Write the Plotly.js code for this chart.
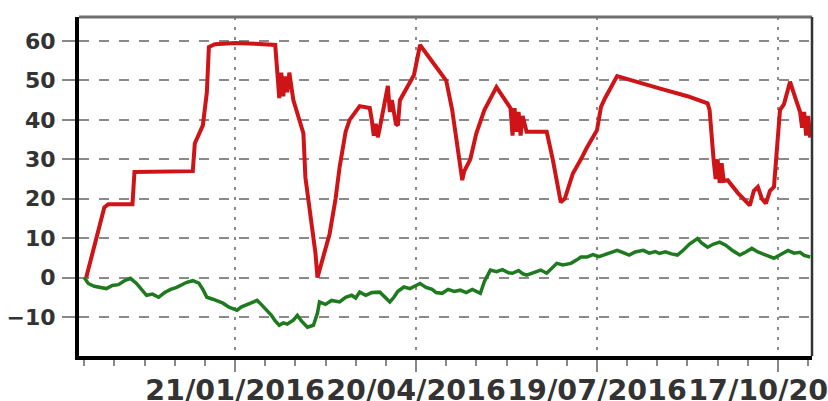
<!DOCTYPE html>
<html>
<head>
<meta charset="utf-8">
<script src="https://cdn.plot.ly/plotly-3.0.1.min.js"></script>
<style>
html,body{margin:0;padding:0;background:#fff;}
#chart{width:828px;height:401px;}
</style>
</head>
<body>
<div id="chart"></div>
<script>
// Red series (dates and values)
var redDates = [
'2015-11-08','2015-11-12','2015-11-17','2015-11-19','2015-12-01','2015-12-02','2015-12-31',
'2016-01-01','2016-01-05','2016-01-07','2016-01-08','2016-01-11','2016-01-21','2016-01-31',
'2016-02-10','2016-02-12','2016-02-13','2016-02-14','2016-02-15','2016-02-16','2016-02-17',
'2016-02-19','2016-02-24','2016-02-25','2016-03-01','2016-03-02','2016-03-08','2016-03-11',
'2016-03-13','2016-03-16','2016-03-18','2016-03-23','2016-03-28','2016-03-29','2016-03-30',
'2016-03-31','2016-04-01','2016-04-02','2016-04-06','2016-04-07','2016-04-08','2016-04-10',
'2016-04-11','2016-04-12','2016-04-19','2016-04-22','2016-05-05','2016-05-08','2016-05-13',
'2016-05-14','2016-05-17','2016-05-20','2016-05-24','2016-05-30','2016-06-06','2016-06-07',
'2016-06-08','2016-06-09','2016-06-10','2016-06-11','2016-06-12','2016-06-14','2016-06-24',
'2016-06-27','2016-07-01','2016-07-03','2016-07-07','2016-07-11','2016-07-14','2016-07-19',
'2016-07-21','2016-07-23','2016-07-29','2016-08-19','2016-09-02','2016-09-12','2016-09-13',
'2016-09-15','2016-09-16','2016-09-17','2016-09-18','2016-09-19','2016-09-20','2016-09-22',
'2016-09-27','2016-10-03','2016-10-05','2016-10-07','2016-10-09','2016-10-11','2016-10-13',
'2016-10-15','2016-10-16','2016-10-18','2016-10-20','2016-10-23','2016-10-26','2016-10-28',
'2016-10-29','2016-10-30','2016-10-31','2016-11-01','2016-11-02'
];
var redValues = [
0,8,17.8,18.6,18.6,26.8,27,
34,38.6,47,58.5,59.2,59.5,59.3,
59,45.5,52,46,51,47,52,
45,36.6,25.4,6.2,0,11,20,
28,37,40,43.5,43,40,36,
39,35.6,38,48.6,42,45,39,
38.6,45,51.4,59,50,42.5,24.7,
27,30,36.6,42.5,48.3,43,36,
43,37,42,36,41,37,37,
30,19.1,20,26.4,30,33,37.4,
43.3,45.5,51.1,48,46,44.2,42.5,
29.8,25,30,24,29,24.5,24.7,
21.5,18.3,22,23,20,18.8,22,
23,30,42.5,44,49.7,45,42,
38,42,36,41,35.5
];

// Green series
var greenDates = [
'2015-11-07','2015-11-09','2015-11-12','2015-11-15','2015-11-18','2015-11-21','2015-11-24',
'2015-11-27','2015-11-30','2015-12-03','2015-12-06','2015-12-08','2015-12-11','2015-12-14',
'2015-12-17','2015-12-20','2015-12-23','2015-12-26','2015-12-28','2015-12-31','2016-01-03',
'2016-01-05','2016-01-07','2016-01-10','2016-01-13','2016-01-15','2016-01-18','2016-01-20',
'2016-01-22','2016-01-24','2016-01-27','2016-01-30','2016-02-01','2016-02-03','2016-02-06',
'2016-02-08','2016-02-10','2016-02-12','2016-02-14','2016-02-16','2016-02-19','2016-02-21',
'2016-02-23','2016-02-26','2016-02-29','2016-03-02','2016-03-03','2016-03-06','2016-03-09',
'2016-03-13','2016-03-16','2016-03-19','2016-03-21','2016-03-23','2016-03-26','2016-03-29',
'2016-04-02','2016-04-05','2016-04-07','2016-04-09','2016-04-11','2016-04-14','2016-04-17',
'2016-04-20','2016-04-22','2016-04-25','2016-04-28','2016-04-30','2016-05-03','2016-05-06',
'2016-05-09','2016-05-12','2016-05-15','2016-05-18','2016-05-22','2016-05-24','2016-05-27',
'2016-05-30','2016-06-02','2016-06-05','2016-06-07','2016-06-10','2016-06-12','2016-06-14',
'2016-06-17','2016-06-21','2016-06-24','2016-06-27','2016-06-29','2016-07-02','2016-07-06',
'2016-07-09','2016-07-11','2016-07-14','2016-07-17','2016-07-20','2016-07-22','2016-07-25',
'2016-07-27','2016-07-29','2016-08-01','2016-08-04','2016-08-07','2016-08-11','2016-08-14',
'2016-08-17','2016-08-19','2016-08-22','2016-08-25','2016-08-28','2016-08-31','2016-09-03',
'2016-09-07','2016-09-09','2016-09-12','2016-09-15','2016-09-18','2016-09-21','2016-09-24',
'2016-09-28','2016-10-01','2016-10-04','2016-10-07','2016-10-10','2016-10-12','2016-10-15',
'2016-10-18','2016-10-22','2016-10-25','2016-10-28','2016-10-30','2016-11-02'
];
var greenValues = [
0,-1.5,-2.2,-2.5,-2.8,-2,-1.8,
-0.8,-0.2,-1.5,-3.2,-4.5,-4.2,-5,
-3.8,-3,-2.5,-1.8,-1.2,-0.8,-1.4,
-3,-5,-5.5,-6.2,-6.5,-7.5,-7.8,
-8.3,-7.5,-6.8,-6.2,-5.8,-6.8,-8.3,
-9.5,-11,-12.1,-11.5,-11.8,-10.8,-9.6,
-11,-12.6,-12.1,-9,-6.2,-6.8,-5.8,
-6.2,-5,-4.5,-5.2,-3.7,-4.5,-3.8,
-3.7,-5.2,-6.2,-5,-3.5,-2.4,-2.8,
-2,-1.5,-2.5,-3,-3.8,-4,-3,
-3.5,-3.2,-3.8,-3,-4,-1,1.9,
1.5,2,1.2,1.1,1.8,1,0.6,
1.2,1.9,1.1,2.5,3.6,3.2,3.6,
4.5,5.2,5.2,5.8,5.3,5.7,6.2,
6.5,6.9,6.3,5.7,6.5,6.9,6.2,
6.6,6.1,6.5,6,5.7,7,8.5,
9.9,8.8,7.7,8.5,9,8.2,7,
5.7,6.5,7.4,6.5,6,5.5,4.9,
5.8,6.9,6.2,6.4,5.6,5.2
];

var yTickVals = [-10,0,10,20,30,40,50,60];

var traces = [
  {x: greenDates, y: greenValues, type: 'scatter', mode: 'lines',
   line: {color: '#1e7a1e', width: 3.5}, hoverinfo: 'skip'},
  {x: redDates, y: redValues, type: 'scatter', mode: 'lines',
   line: {color: '#cf1418', width: 4}, hoverinfo: 'skip'}
];

var DAY = 86400000;
var layout = {
  width: 828, height: 401,
  margin: {l: 79, r: 16, t: 17, b: 45, pad: 0},
  paper_bgcolor: '#ffffff', plot_bgcolor: '#ffffff',
  showlegend: false,
  xaxis: {
    type: 'date',
    range: ['2015-11-04 10:00', '2016-11-02 22:00'],
    tickmode: 'linear', tick0: '2016-01-21', dtick: 90 * DAY,
    tickformat: '%d/%m/%Y', tickangle: 0,
    ticklabeloverflow: 'allow',
    ticks: 'outside', ticklen: 12, tickwidth: 2, tickcolor: '#888',
    showgrid: true, gridcolor: '#8a8a8a', gridwidth: 2, griddash: '3px,7px',
    showline: true, linecolor: '#000', linewidth: 4,
    zeroline: false, automargin: false,
    tickfont: {family: 'DejaVu Sans', size: 28.5, color: '#333', weight: 'bold'},
    ticklabelstandoff: -6,
    minor: {tickmode: 'linear', tick0: '2016-01-21', dtick: 15 * DAY,
            ticks: 'outside', ticklen: 6, tickwidth: 2, tickcolor: '#888', showgrid: false}
  },
  yaxis: {
    range: [-19.9, 66.1],
    tickmode: 'array', tickvals: yTickVals,
    ticks: 'outside', ticklen: 13, tickwidth: 2, tickcolor: '#888',
    showgrid: true, gridcolor: '#8a8a8a', gridwidth: 2, griddash: '10px,10px',
    showline: true, linecolor: '#000', linewidth: 4,
    zeroline: false, automargin: false,
    tickfont: {family: 'DejaVu Sans', size: 22, color: '#333', weight: 'bold'},
    ticklabelstandoff: 2
  },
  shapes: [
    {type: 'line', xref: 'paper', yref: 'paper', x0: 0, x1: 1, y0: 1, y1: 1,
     line: {color: '#707070', width: 3}},
    {type: 'line', xref: 'paper', yref: 'paper', x0: 1, x1: 1, y0: 0, y1: 1,
     line: {color: '#333', width: 2.5}}
  ]
};

Plotly.newPlot('chart', traces, layout, {staticPlot: true, displayModeBar: false});
</script>
</body>
</html>
